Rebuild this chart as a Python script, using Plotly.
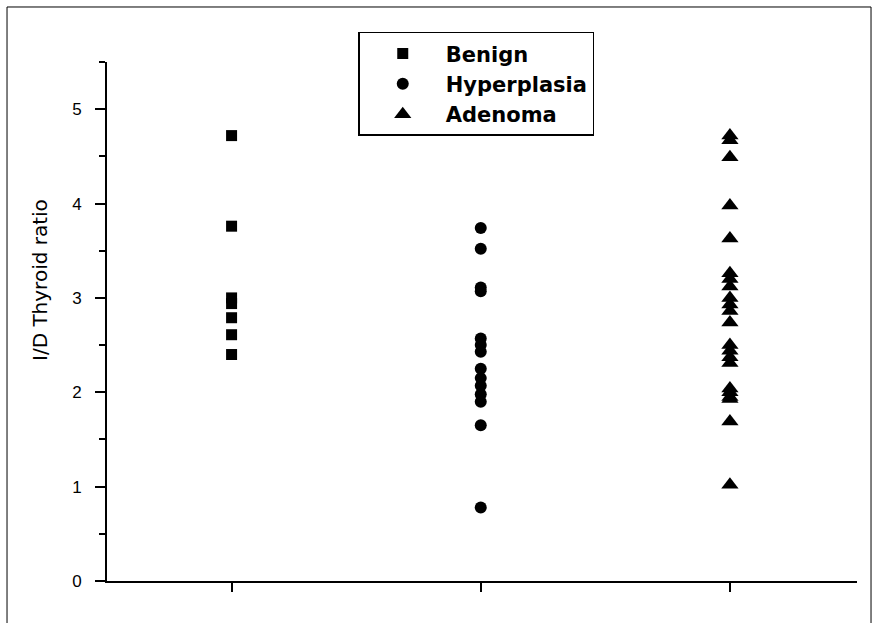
import plotly.graph_objects as go

categories = [1, 2, 3]
series_names = ["Benign", "Hyperplasia", "Adenoma"]

benign = [4.72, 3.76, 3.00, 2.94, 2.79, 2.61, 2.40]
hyperplasia = [3.74, 3.52, 3.11, 3.07, 2.57, 2.50, 2.43, 2.25, 2.15, 2.07, 1.98, 1.90, 1.65, 0.78]
adenoma = [4.72, 4.67, 4.49, 3.98, 3.63, 3.26, 3.20, 3.12, 3.00, 2.93, 2.86, 2.74,
           2.50, 2.44, 2.37, 2.31, 2.04, 2.00, 1.95, 1.93, 1.69, 1.02]

y_ticks = [0, 1, 2, 3, 4, 5]
y_tick_labels = ["0", "1", "2", "3", "4", "5"]
y_title = "I/D Thyroid ratio"

values = [benign, hyperplasia, adenoma]
symbols = ["square", "circle", "triangle-up"]
sizes = [11, 12, 15]

fig = go.Figure()
for cat, name, vals, sym, sz in zip(categories, series_names, values, symbols, sizes):
    fig.add_trace(go.Scatter(
        x=[cat] * len(vals), y=vals, mode="markers", name=name,
        marker=dict(symbol=sym, size=sz, color="black", line=dict(width=0)),
    ))

fig.update_layout(
    width=875, height=623,
    margin=dict(l=107, r=18, t=62, b=42),
    paper_bgcolor="white", plot_bgcolor="white",
    showlegend=True,
    legend=dict(
        x=0.335, y=1.058, xanchor="left", yanchor="top",
        bgcolor="white", bordercolor="black", borderwidth=1.5,
        font=dict(family="DejaVu Sans", size=21, color="black", weight="bold"),
        itemwidth=76, tracegroupgap=0,
    ),
    font=dict(family="Liberation Sans", color="black"),
)

fig.update_xaxes(
    range=[0.5, 3.51], showgrid=False, zeroline=False,
    showline=True, linecolor="black", linewidth=2,
    tickvals=categories, ticktext=["", "", ""], ticks="outside",
    ticklen=9, tickwidth=2, tickcolor="black",
)
fig.update_yaxes(
    range=[0, 5.5], showgrid=False, zeroline=False,
    showline=True, linecolor="black", linewidth=2,
    tickvals=y_ticks, ticktext=y_tick_labels, ticks="outside",
    ticklen=10, tickwidth=2, tickcolor="black",
    tickfont=dict(family="Liberation Sans", size=17, color="black"),
    ticklabelstandoff=10,
    minor=dict(dtick=0.5, ticks="outside", ticklen=6, tickwidth=2, tickcolor="black"),
)

fig.add_annotation(
    text=y_title, textangle=-90, xref="paper", yref="paper",
    x=-0.0893, y=0.58, xanchor="center", yanchor="middle", showarrow=False,
    font=dict(family="DejaVu Sans", size=20, color="black"),
)

fig.add_shape(type="rect", xref="paper", yref="paper",
              x0=-0.1333, x1=1.0187, y0=-0.09, y1=1.106,
              line=dict(color="black", width=1), fillcolor="rgba(0,0,0,0)", layer="below")

fig.write_html("out.html", config={"displayModeBar": False},
               post_script="document.body.style.margin='0';document.body.style.overflow='hidden';")
